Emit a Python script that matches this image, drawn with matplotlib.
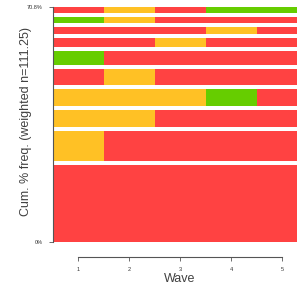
import matplotlib.pyplot as plt

# sequence index plot, most frequent sequence at the bottom
waves = [1, 2, 3, 4, 5]
sequences = [
    "RRRRR",
    "ORRRR",
    "OORRR",
    "OOOGR",
    "RORRR",
    "GRRRR",
    "RRORR",
    "RRROR",
    "GORRR",
    "RORGG",
]
weights_pct = [27.5, 10.5, 6.3, 6.0, 5.6, 5.1, 3.0, 2.4, 2.3, 2.1]
state_colors = {"R": "#FF4242", "O": "#FFC125", "G": "#66CD00"}
gap = 1.43  # space between bars, in % units

W, H = 297, 289
fig = plt.figure(figsize=(W / 100, H / 100), dpi=100)
ax = fig.add_axes([52.5 / W, (H - 242) / H, (W - 52.5) / W, 235 / H])
fonts = ['Liberation Sans', 'DejaVu Sans']

y = 0.0
for seq, w in zip(sequences, weights_pct):
    for wave, st in zip(waves, seq):
        ax.barh(y, 1.0, left=wave - 0.5, height=w, align='edge',
                color=state_colors[st], linewidth=0)
    y += w + gap
top = y - gap

ax.set_xlim(0.5, 0.5 + (W - 52.5) / 51)
ax.set_ylim(0, top)

for s in ['top', 'right']:
    ax.spines[s].set_visible(False)
ax.spines['left'].set_bounds(0, top)
ax.spines['left'].set_color('#555555')
ax.spines['left'].set_linewidth(0.8)
ax.spines['bottom'].set_position(('outward', 11))
ax.spines['bottom'].set_bounds(1, 5)
ax.spines['bottom'].set_color('#555555')
ax.spines['bottom'].set_linewidth(0.8)

ax.set_xticks(waves)
ax.set_xticklabels([str(w) for w in waves], fontsize=4, color='#333333',
                   fontfamily=fonts)
ax.set_yticks([0, top])
ax.set_yticklabels(['0%', '70.8%'], fontsize=4, color='#333333',
                   fontfamily=fonts)
ax.tick_params(axis='x', length=3, width=0.6, color='#555555', pad=4)
ax.tick_params(axis='y', length=3, width=0.6, color='#555555', pad=4)

ax.set_xlabel('Wave', fontsize=9, color='#404040', fontfamily=fonts)
ax.xaxis.set_label_coords((180 - 52.5) / (W - 52.5), -(273 - 242) / 235)
ax.set_ylabel('Cum. % freq. (weighted n=111.25)', fontsize=9, color='#404040',
              fontfamily=fonts)
ax.yaxis.set_label_coords(-(52.5 - 32) / (W - 52.5), (242 - 122) / 235)

fig.savefig('out.png', dpi=100)
